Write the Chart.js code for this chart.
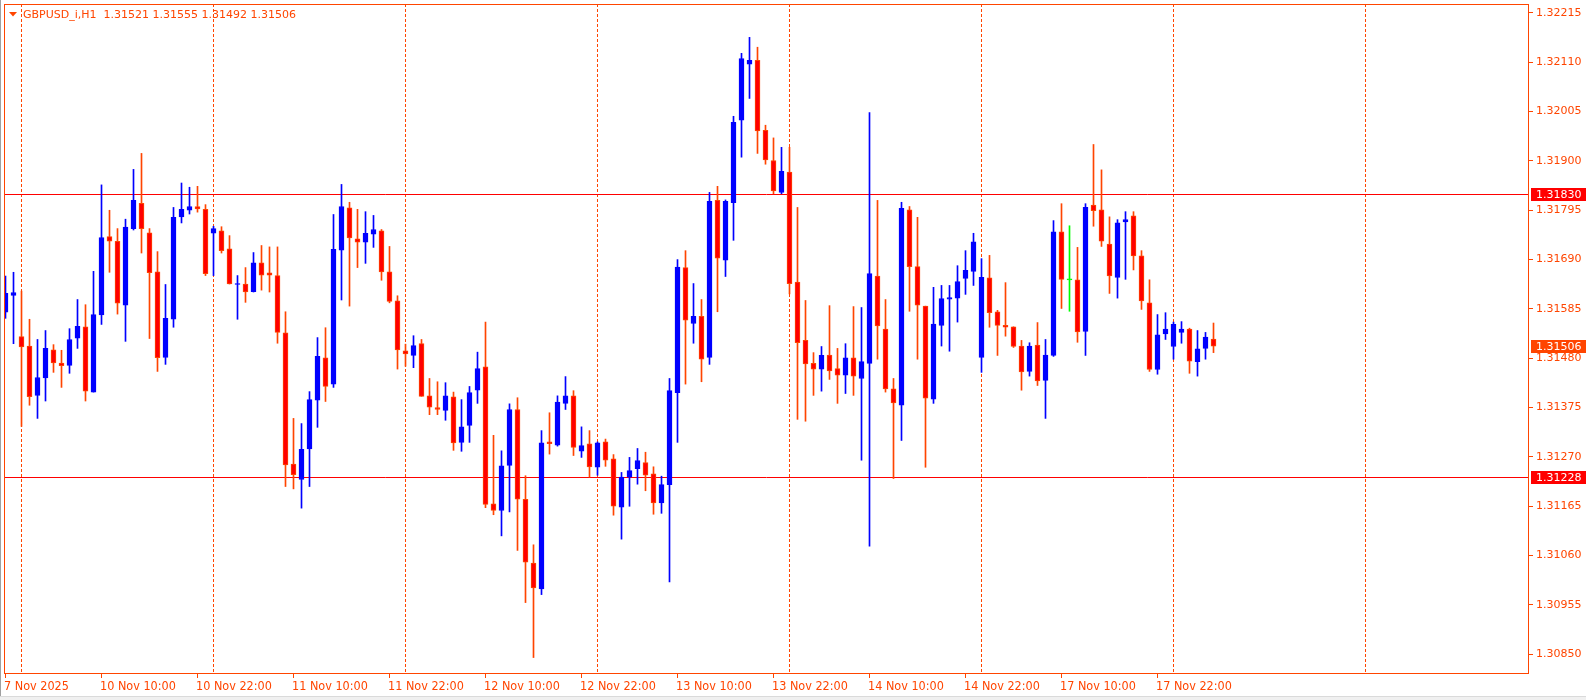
<!DOCTYPE html>
<html>
<head>
<meta charset="utf-8">
<title>GBPUSD_i,H1</title>
<script src="https://cdn.jsdelivr.net/npm/chart.js@4.4.1/dist/chart.umd.min.js"></script>
<style>
  html, body { margin: 0; padding: 0; background: #fff; }
  #wrap { width: 1586px; height: 700px; }
</style>
</head>
<body>
<div id="wrap"><canvas id="priceChart" width="1586" height="700"></canvas></div>
<script>
"use strict";

const symbol = 'GBPUSD_i';
const period = 'H1';

// hourly bars, 7 Nov 22:00 .. 18 Nov 05:00 (weekend skipped)
const opens = [1.31578,1.31614,1.31526,1.31506,1.31401,1.31438,1.31498,1.31470,1.31465,1.31523,
  1.31547,1.31408,1.31572,1.31739,1.31729,1.31593,1.31756,1.31810,1.31747,1.31664,
  1.31482,1.31563,1.31781,1.31795,1.31803,1.31797,1.31746,1.31751,1.31713,1.31637,
  1.31638,1.31622,1.31683,1.31662,1.31656,1.31534,1.31255,1.31222,1.31287,1.31391,
  1.31481,1.31425,1.31710,1.31800,1.31734,1.31727,1.31744,1.31751,1.31664,1.31602,
  1.31496,1.31486,1.31511,1.31400,1.31375,1.31369,1.31398,1.31301,1.31337,1.31412,
  1.31462,1.31170,1.31156,1.31252,1.31371,1.31180,1.31044,1.30989,1.31302,1.31295,
  1.31384,1.31400,1.31282,1.31298,1.31248,1.31302,1.31266,1.31163,1.31227,1.31245,
  1.31258,1.31234,1.31172,1.31211,1.31407,1.31673,1.31554,1.31569,1.31482,1.31816,
  1.31689,1.31811,1.31987,1.32106,1.32114,1.31965,1.31901,1.31833,1.31876,1.31642,
  1.31518,1.31469,1.31457,1.31487,1.31458,1.31444,1.31481,1.31437,1.31469,1.31655,
  1.31542,1.31415,1.31380,1.31796,1.31675,1.31591,1.31393,1.31550,1.31606,1.31608,
  1.31650,1.31665,1.31482,1.31651,1.31579,1.31550,1.31547,1.31506,1.31452,1.31508,
  1.31433,1.31486,1.31749,1.31647,1.31647,1.31537,1.31806,1.31796,1.31723,1.31652,
  1.31770,1.31783,1.31698,1.31598,1.31456,1.31532,1.31505,1.31535,1.31542,1.31473,
  1.31501,1.31521];

const highs = [1.31655,1.31663,1.31623,1.31563,1.31520,1.31539,1.31509,1.31497,1.31543,1.31605,
  1.31594,1.31665,1.31849,1.31795,1.31756,1.31776,1.31882,1.31916,1.31756,1.31707,
  1.31637,1.31801,1.31853,1.31844,1.31846,1.31807,1.31761,1.31760,1.31741,1.31656,
  1.31673,1.31705,1.31720,1.31717,1.31717,1.31579,1.31352,1.31341,1.31409,1.31524,
  1.31545,1.31786,1.31850,1.31812,1.31797,1.31792,1.31784,1.31754,1.31718,1.31613,
  1.31510,1.31528,1.31520,1.31437,1.31430,1.31428,1.31408,1.31392,1.31420,1.31493,
  1.31557,1.31316,1.31283,1.31383,1.31396,1.31230,1.31083,1.31326,1.31364,1.31400,
  1.31441,1.31411,1.31334,1.31326,1.31302,1.31308,1.31275,1.31237,1.31269,1.31288,
  1.31280,1.31249,1.31229,1.31437,1.31690,1.31709,1.31639,1.31605,1.31833,1.31846,
  1.31817,1.31995,1.32129,1.32163,1.32142,1.31976,1.31949,1.31929,1.31929,1.31801,
  1.31603,1.31492,1.31505,1.31592,1.31501,1.31511,1.31590,1.31588,1.32003,1.31816,
  1.31605,1.31437,1.31812,1.31803,1.31780,1.31591,1.31631,1.31635,1.31635,1.31677,
  1.31709,1.31746,1.31692,1.31699,1.31582,1.31641,1.31547,1.31518,1.31513,1.31556,
  1.31520,1.31773,1.31809,1.31762,1.31716,1.31809,1.31935,1.31881,1.31781,1.31775,
  1.31792,1.31792,1.31709,1.31647,1.31573,1.31577,1.31557,1.31558,1.31544,1.31539,
  1.31535,1.31555];

const lows = [1.31565,1.31511,1.31335,1.31380,1.31352,1.31389,1.31450,1.31418,1.31448,1.31501,
  1.31389,1.31408,1.31552,1.31663,1.31574,1.31516,1.31753,1.31704,1.31522,1.31452,
  1.31467,1.31546,1.31768,1.31787,1.31791,1.31656,1.31656,1.31704,1.31638,1.31563,
  1.31599,1.31621,1.31625,1.31621,1.31512,1.31207,1.31202,1.31161,1.31207,1.31333,
  1.31388,1.31418,1.31604,1.31591,1.31673,1.31682,1.31716,1.31646,1.31598,1.31457,
  1.31463,1.31460,1.31399,1.31360,1.31360,1.31348,1.31284,1.31282,1.31301,1.31384,
  1.31162,1.31147,1.31102,1.31153,1.31071,1.30960,1.30843,1.30977,1.31276,1.31293,
  1.31371,1.31273,1.31269,1.31227,1.31231,1.31250,1.31146,1.31095,1.31165,1.31212,
  1.31198,1.31148,1.31150,1.31004,1.31301,1.31425,1.31512,1.31430,1.31467,1.31579,
  1.31654,1.31731,1.31908,1.32033,1.31916,1.31893,1.31830,1.31830,1.31617,1.31350,
  1.31346,1.31401,1.31410,1.31435,1.31384,1.31405,1.31401,1.31263,1.31080,1.31478,
  1.31408,1.31224,1.31305,1.31580,1.31478,1.31248,1.31384,1.31506,1.31495,1.31557,
  1.31616,1.31635,1.31450,1.31546,1.31486,1.31527,1.31503,1.31412,1.31442,1.31422,
  1.31352,1.31484,1.31586,1.31580,1.31514,1.31486,1.31761,1.31718,1.31618,1.31608,
  1.31648,1.31668,1.31584,1.31452,1.31446,1.31520,1.31478,1.31512,1.31448,1.31442,
  1.31478,1.31492];

const closes = [1.31618,1.31620,1.31504,1.31398,1.31439,1.31501,1.31470,1.31464,1.31520,1.31548,
  1.31410,1.31573,1.31737,1.31729,1.31597,1.31759,1.31816,1.31756,1.31662,1.31481,
  1.31565,1.31780,1.31797,1.31803,1.31798,1.31660,1.31756,1.31709,1.31638,1.31638,
  1.31621,1.31683,1.31657,1.31657,1.31535,1.31253,1.31232,1.31286,1.31392,1.31484,
  1.31420,1.31712,1.31803,1.31736,1.31727,1.31746,1.31754,1.31664,1.31601,1.31498,
  1.31489,1.31507,1.31399,1.31376,1.31371,1.31400,1.31300,1.31334,1.31407,1.31458,
  1.31169,1.31156,1.31251,1.31371,1.31180,1.31046,1.30991,1.31300,1.31298,1.31387,
  1.31400,1.31290,1.31294,1.31249,1.31300,1.31263,1.31165,1.31227,1.31241,1.31262,
  1.31231,1.31172,1.31211,1.31411,1.31674,1.31561,1.31569,1.31478,1.31814,1.31693,
  1.31814,1.31982,1.32118,1.32114,1.31964,1.31902,1.31836,1.31878,1.31639,1.31513,
  1.31468,1.31457,1.31486,1.31453,1.31444,1.31481,1.31442,1.31473,1.31660,1.31549,
  1.31415,1.31385,1.31799,1.31675,1.31593,1.31395,1.31553,1.31607,1.31609,1.31643,
  1.31667,1.31728,1.31652,1.31577,1.31550,1.31546,1.31505,1.31451,1.31506,1.31432,
  1.31487,1.31749,1.31648,1.31647,1.31536,1.31801,1.31794,1.31729,1.31655,1.31768,
  1.31775,1.31698,1.31602,1.31456,1.31530,1.31542,1.31552,1.31542,1.31474,1.31500,
  1.31525,1.31506];

// time axis (bar index -> label)
const xTickIdx = [0, 12, 24, 36, 48, 60, 72, 84, 96, 108, 120, 132, 144];
const xTickLabels = ['7 Nov 2025', '10 Nov 10:00', '10 Nov 22:00', '11 Nov 10:00', '11 Nov 22:00',
  '12 Nov 10:00', '12 Nov 22:00', '13 Nov 10:00', '13 Nov 22:00', '14 Nov 10:00',
  '14 Nov 22:00', '17 Nov 10:00', '17 Nov 22:00'];
const daySeparators = [2, 26, 50, 74, 98, 122, 146, 170];

const yTickValues = [1.32215, 1.32110, 1.32005, 1.31900, 1.31795, 1.31690, 1.31585,
  1.31480, 1.31375, 1.31270, 1.31165, 1.31060, 1.30955, 1.30850];
const levels = [1.31830, 1.31228];

const axisColor = '#FF4500';
const bullColor = '#0000FF';
const bearFill = '#FF0000';
const bearLine = '#FF4500';
const dojiColor = '#00FF00';

const idx = opens.map((_, i) => i);
const dir = idx.map(i => Math.sign(closes[i] - opens[i]));
const lineColors = dir.map(d => d > 0 ? bullColor : d < 0 ? bearLine : dojiColor);
const fillColors = dir.map(d => d > 0 ? bullColor : d < 0 ? bearFill : dojiColor);

const lastBar = opens.length - 1;
const fmt = v => v.toFixed(5);

const overlay = {
  id: 'overlay',
  beforeDatasetsDraw(chart) {
    const { ctx, chartArea: a, scales: { x, y } } = chart;
    ctx.save();
    ctx.lineWidth = 1;
    ctx.strokeStyle = axisColor;
    ctx.setLineDash([3, 2]);
    daySeparators.forEach(d => {
      const px = Math.round(x.getPixelForValue(d)) - 0.5;
      ctx.beginPath();
      ctx.moveTo(px, a.top);
      ctx.lineTo(px, a.bottom);
      ctx.stroke();
    });
    ctx.setLineDash([]);
    ctx.strokeStyle = '#FF0000';
    levels.forEach(lv => {
      const py = Math.round(y.getPixelForValue(lv)) + 0.5;
      ctx.beginPath();
      ctx.moveTo(a.left, py);
      ctx.lineTo(a.right, py);
      ctx.stroke();
    });
    ctx.restore();
  },
  afterDraw(chart) {
    const { ctx, chartArea: a, scales: { y } } = chart;
    ctx.save();
    // frame
    ctx.strokeStyle = axisColor;
    ctx.lineWidth = 1;
    ctx.strokeRect(a.left + 0.5, a.top + 0.5, a.right - a.left - 1, a.bottom - a.top - 1);

    // price tags on the right scale
    const tag = (v, bg) => {
      const py = Math.round(y.getPixelForValue(v));
      ctx.fillStyle = bg;
      ctx.fillRect(a.right + 2, py - 6, chart.width - a.right - 2, 13);
      ctx.fillStyle = '#FFFFFF';
      ctx.font = '11px "DejaVu Sans"';
      ctx.textBaseline = 'middle';
      ctx.textAlign = 'left';
      ctx.fillText(fmt(v), a.right + 7, py + 1);
    };
    levels.forEach(lv => tag(lv, '#FF0000'));
    tag(closes[lastBar], axisColor);

    // header
    ctx.fillStyle = axisColor;
    ctx.beginPath();
    ctx.moveTo(9, 12);
    ctx.lineTo(17, 12);
    ctx.lineTo(13, 16.5);
    ctx.closePath();
    ctx.fill();
    ctx.font = '11px "DejaVu Sans"';
    ctx.textBaseline = 'middle';
    ctx.fillText(symbol + ',' + period + '  ' + fmt(opens[lastBar]) + ' ' + fmt(highs[lastBar]) +
      ' ' + fmt(lows[lastBar]) + ' ' + fmt(closes[lastBar]), 23, 15);

    // window edges
    ctx.fillStyle = '#A0A0A0';
    ctx.fillRect(0, 0, 1, chart.height);
    ctx.fillStyle = '#F0F0F0';
    ctx.fillRect(0, chart.height - 3, chart.width, 3);
    ctx.fillStyle = '#DADADA';
    ctx.fillRect(0, chart.height - 4, chart.width, 1);
    ctx.restore();
  }
};

const ctx = document.getElementById('priceChart').getContext('2d');

new Chart(ctx, {
  type: 'bar',
  data: {
    datasets: [
      {
        label: 'body',
        data: idx.map(i => ({ x: i, y: [opens[i], closes[i]] })),
        backgroundColor: fillColors,
        borderColor: lineColors,
        borderWidth: 1,
        borderSkipped: false,
        barThickness: 5,
        minBarLength: 1,
        grouped: false,
        order: 1
      },
      {
        label: 'wick',
        data: idx.map(i => ({ x: i, y: [lows[i], highs[i]] })),
        backgroundColor: lineColors,
        borderWidth: 0,
        barThickness: 1,
        grouped: false,
        order: 2
      }
    ]
  },
  options: {
    responsive: false,
    animation: false,
    devicePixelRatio: 1,
    layout: { padding: { top: 4, left: 4, right: 0, bottom: 0 } },
    plugins: {
      legend: { display: false },
      tooltip: { enabled: false }
    },
    scales: {
      x: {
        type: 'linear',
        position: 'bottom',
        offset: false,
        min: -0.1875,
        max: 190.4375,
        afterBuildTicks: s => { s.ticks = xTickIdx.map(v => ({ value: v })); },
        afterFit: s => { s.height = 26; s.paddingLeft = 0; s.paddingRight = 0; },
        border: { display: false },
        grid: { offset: false, drawOnChartArea: false, drawTicks: true, tickLength: 4, color: axisColor },
        ticks: {
          autoSkip: false,
          maxRotation: 0,
          align: 'start',
          labelOffset: -1.5,
          padding: 1,
          color: axisColor,
          font: { family: '"Liberation Sans Narrow", "DejaVu Sans Condensed", sans-serif', size: 12.5 },
          callback: (v, i) => xTickLabels[i]
        }
      },
      y: {
        type: 'linear',
        position: 'right',
        beginAtZero: false,
        min: 1.30808,
        max: 1.32234,
        afterBuildTicks: s => { s.ticks = yTickValues.map(v => ({ value: v })); },
        afterFit: s => { s.width = 57; s.paddingTop = 0; s.paddingBottom = 0; },
        border: { display: false },
        grid: { drawOnChartArea: false, drawTicks: true, tickLength: 4, color: axisColor },
        ticks: {
          autoSkip: false,
          padding: 3,
          color: axisColor,
          font: { family: '"DejaVu Sans"', size: 11 },
          callback: v => fmt(v)
        }
      }
    }
  },
  plugins: [overlay]
});
</script>
</body>
</html>
